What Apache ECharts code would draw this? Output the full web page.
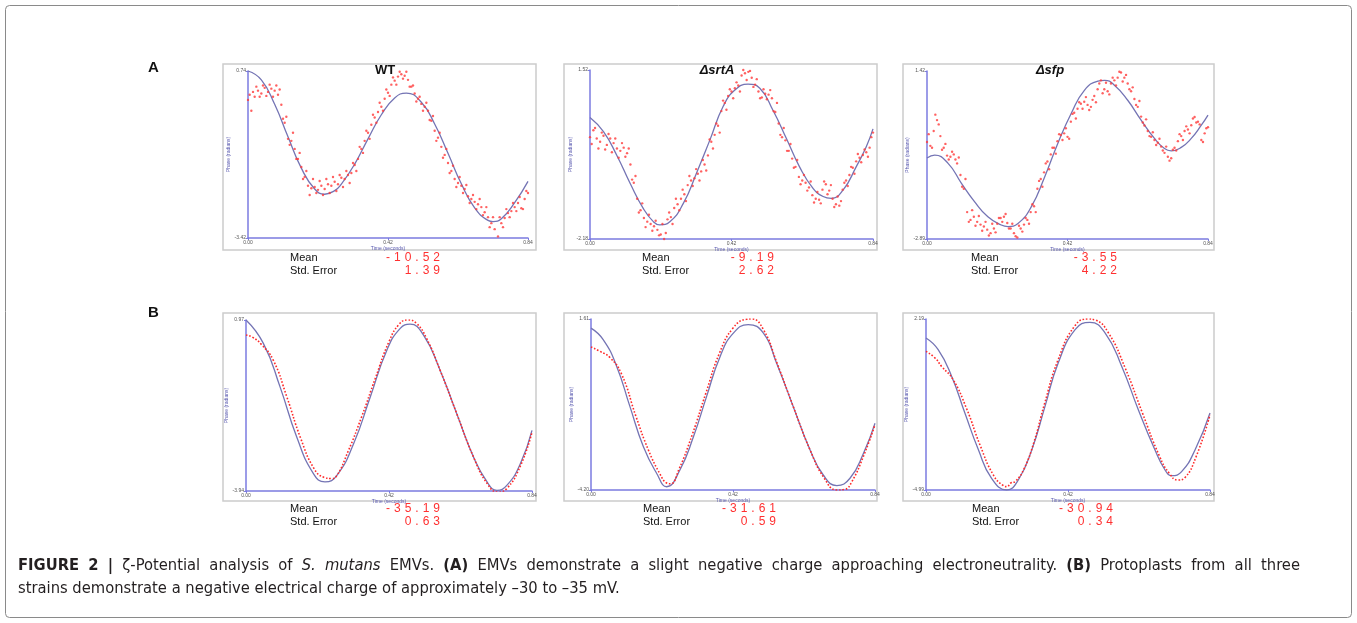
<!DOCTYPE html>
<html><head><meta charset="utf-8">
<script src="https://cdn.jsdelivr.net/npm/echarts@6/dist/echarts.min.js"></script>
<style>html,body{margin:0;padding:0;background:#fff}#c{width:1357px;height:623px}</style>
</head><body><div id="c"></div><script>
// ---------- data ----------
const strains = ['WT', 'ΔsrtA', 'Δsfp'];
const xTicks = [0, 0.42, 0.84];
const yMinA = [-3.42, -2.18, -2.89];
const yMaxA = [0.74, 1.52, 1.42];
const yMinB = [-3.94, -4.20, -4.99];
const yMaxB = [0.97, 1.61, 2.19];
const meanA = ['-10.52', '-9.19', '-3.55'];
const stdErrA = ['1.39', '2.62', '4.22'];
const meanB = ['-35.19', '-31.61', '-30.94'];
const stdErrB = ['0.63', '0.59', '0.34'];

const fitA_WT = [[0,0.74],[0.04,0.52],[0.08,-0.09],[0.12,-0.90],[0.16,-1.68],[0.20,-2.20],[0.23,-2.33],[0.26,-2.24],[0.28,-2.08],[0.32,-1.58],[0.36,-0.95],[0.40,-0.35],[0.44,0.07],[0.475,0.19],[0.52,-0.04],[0.56,-0.58],[0.60,-1.31],[0.64,-2.07],[0.68,-2.67],[0.72,-2.98],[0.735,-3.01],[0.76,-2.94],[0.80,-2.54],[0.84,-2.01]];
const dotsA_WT = [[0.00,0.02],[0.01,-0.25],[0.02,0.10],[0.03,0.25],[0.04,0.18],[0.05,0.32],[0.06,0.22],[0.07,0.30],[0.08,0.25],[0.09,0.15],[0.10,-0.10],[0.11,-0.55],[0.12,-0.95],[0.13,-1.00],[0.14,-1.20],[0.15,-1.45],[0.16,-1.65],[0.17,-1.90],[0.18,-2.12],[0.19,-2.18],[0.20,-2.15],[0.21,-2.22],[0.22,-2.12],[0.23,-2.20],[0.24,-2.08],[0.25,-2.12],[0.26,-2.02],[0.27,-2.08],[0.28,-1.92],[0.29,-1.95],[0.30,-1.85],[0.31,-1.80],[0.32,-1.60],[0.33,-1.45],[0.34,-1.20],[0.35,-1.00],[0.36,-0.80],[0.37,-0.60],[0.38,-0.42],[0.39,-0.28],[0.40,-0.15],[0.41,0.05],[0.42,0.20],[0.43,0.40],[0.44,0.50],[0.45,0.60],[0.46,0.66],[0.47,0.62],[0.48,0.52],[0.49,0.35],[0.50,0.18],[0.51,0.05],[0.52,-0.08],[0.53,-0.15],[0.54,-0.25],[0.55,-0.50],[0.56,-0.75],[0.57,-0.92],[0.58,-1.15],[0.59,-1.35],[0.60,-1.55],[0.61,-1.75],[0.62,-1.95],[0.63,-2.05],[0.64,-2.12],[0.65,-2.20],[0.66,-2.38],[0.67,-2.45],[0.68,-2.52],[0.69,-2.58],[0.70,-2.65],[0.71,-2.78],[0.72,-2.90],[0.73,-3.05],[0.74,-3.20],[0.75,-3.38],[0.76,-3.05],[0.77,-2.92],[0.78,-2.80],[0.79,-2.75],[0.80,-2.65],[0.81,-2.55],[0.82,-2.68],[0.83,-2.45],[0.84,-2.30],
[0.005,0.15],[0.015,0.22],[0.025,0.35],[0.035,0.10],[0.045,0.38],[0.055,0.12],[0.065,0.40],[0.075,0.10],[0.085,0.38],[0.095,0.28],[0.105,-0.45],[0.115,-0.40],[0.125,-1.10],[0.135,-0.80],[0.145,-1.45],[0.155,-1.30],[0.165,-1.95],[0.175,-1.75],[0.185,-2.35],[0.195,-1.95],[0.205,-2.30],[0.215,-2.00],[0.225,-2.35],[0.235,-1.95],[0.245,-2.30],[0.255,-1.90],[0.265,-2.25],[0.275,-1.85],[0.285,-2.15],[0.295,-1.75],[0.305,-2.05],[0.315,-1.55],[0.325,-1.75],[0.335,-1.15],[0.345,-1.30],[0.355,-0.75],[0.365,-0.95],[0.375,-0.35],[0.385,-0.55],[0.395,-0.05],[0.405,-0.25],[0.415,0.28],[0.425,0.12],[0.435,0.58],[0.445,0.40],[0.455,0.72],[0.465,0.55],[0.475,0.72],[0.485,0.35],[0.495,0.38],[0.505,-0.02],[0.515,0.10],[0.525,-0.25],[0.535,-0.05],[0.545,-0.48],[0.555,-0.38],[0.565,-1.00],[0.575,-0.80],[0.585,-1.42],[0.595,-1.20],[0.605,-1.80],[0.615,-1.62],[0.625,-2.15],[0.635,-1.90],[0.645,-2.30],[0.655,-2.10],[0.665,-2.55],[0.675,-2.35],[0.685,-2.70],[0.695,-2.45],[0.705,-2.85],[0.715,-2.65],[0.725,-3.15],[0.735,-2.90],[0.745,-3.45],[0.755,-2.90],[0.765,-3.15],[0.775,-2.70],[0.785,-2.90],[0.795,-2.55],[0.805,-2.75],[0.815,-2.40],[0.825,-2.70],[0.835,-2.25]];

const fitA_srtA = [[0,0.48],[0.04,0.17],[0.079,-0.34],[0.119,-0.96],[0.158,-1.51],[0.188,-1.80],[0.207,-1.87],[0.237,-1.80],[0.277,-1.40],[0.316,-0.74],[0.356,-0.01],[0.395,0.72],[0.43,1.08],[0.469,1.21],[0.504,1.12],[0.543,0.64],[0.583,0.02],[0.622,-0.60],[0.662,-1.07],[0.692,-1.25],[0.716,-1.29],[0.751,-1.11],[0.79,-0.60],[0.82,-0.16],[0.84,0.23]];
const dotsA_srtA = [[0.00,0.05],[0.01,0.20],[0.02,0.02],[0.03,-0.05],[0.04,0.08],[0.05,-0.12],[0.06,0.02],[0.07,-0.08],[0.08,-0.20],[0.09,-0.25],[0.10,-0.18],[0.11,-0.30],[0.12,-0.55],[0.13,-0.95],[0.14,-1.30],[0.15,-1.55],[0.16,-1.72],[0.17,-1.80],[0.18,-1.85],[0.19,-1.90],[0.20,-1.98],[0.21,-2.08],[0.22,-2.18],[0.23,-1.75],[0.24,-1.70],[0.25,-1.50],[0.26,-1.42],[0.27,-1.30],[0.28,-1.20],[0.29,-1.00],[0.30,-0.90],[0.31,-0.85],[0.32,-0.75],[0.33,-0.70],[0.34,-0.55],[0.35,-0.35],[0.36,-0.05],[0.37,0.10],[0.38,0.30],[0.39,0.62],[0.40,0.80],[0.41,0.95],[0.42,1.05],[0.43,1.12],[0.44,1.18],[0.45,1.40],[0.46,1.45],[0.47,1.48],[0.48,1.35],[0.49,1.20],[0.50,1.05],[0.51,0.92],[0.52,1.00],[0.53,0.98],[0.54,0.90],[0.55,0.60],[0.56,0.35],[0.57,0.05],[0.58,-0.02],[0.59,-0.25],[0.60,-0.42],[0.61,-0.60],[0.62,-0.82],[0.63,-0.90],[0.64,-0.95],[0.65,-1.05],[0.66,-1.22],[0.67,-1.30],[0.68,-1.32],[0.69,-1.10],[0.70,-0.98],[0.71,-1.12],[0.72,-1.30],[0.73,-1.42],[0.74,-1.45],[0.75,-1.10],[0.76,-0.90],[0.77,-0.78],[0.78,-0.62],[0.79,-0.48],[0.80,-0.40],[0.81,-0.34],[0.82,-0.28],[0.83,-0.18],[0.84,0.15],
[0.005,-0.10],[0.015,0.25],[0.025,-0.20],[0.035,0.15],[0.045,-0.22],[0.055,0.12],[0.065,-0.28],[0.075,0.02],[0.085,-0.40],[0.095,-0.08],[0.105,-0.38],[0.115,-0.20],[0.125,-0.88],[0.135,-0.80],[0.145,-1.60],[0.155,-1.40],[0.165,-1.92],[0.175,-1.65],[0.185,-2.00],[0.195,-1.78],[0.205,-2.10],[0.215,-1.85],[0.225,-2.05],[0.235,-1.60],[0.245,-1.85],[0.255,-1.30],[0.265,-1.55],[0.275,-1.10],[0.285,-1.35],[0.295,-0.80],[0.305,-1.02],[0.315,-0.65],[0.325,-0.90],[0.335,-0.45],[0.345,-0.68],[0.355,0.00],[0.365,-0.20],[0.375,0.35],[0.385,0.15],[0.395,0.85],[0.405,0.65],[0.415,1.10],[0.425,0.90],[0.435,1.25],[0.445,1.05],[0.455,1.52],[0.465,1.30],[0.475,1.50],[0.485,1.15],[0.495,1.32],[0.505,0.90],[0.515,1.10],[0.525,0.88],[0.535,1.08],[0.545,0.62],[0.555,0.80],[0.565,0.10],[0.575,0.25],[0.585,-0.25],[0.595,-0.10],[0.605,-0.62],[0.615,-0.45],[0.625,-0.98],[0.635,-0.78],[0.645,-1.12],[0.655,-0.92],[0.665,-1.38],[0.675,-1.15],[0.685,-1.40],[0.695,-0.92],[0.705,-1.20],[0.715,-1.00],[0.725,-1.48],[0.735,-1.25],[0.745,-1.35],[0.755,-0.95],[0.765,-1.02],[0.775,-0.60],[0.785,-0.75],[0.795,-0.32],[0.805,-0.50],[0.815,-0.22],[0.825,-0.38],[0.835,0.05]];

const fitA_sfp = [[0,-0.81],[0.023,-0.74],[0.063,-0.95],[0.103,-1.46],[0.142,-1.93],[0.182,-2.32],[0.222,-2.53],[0.242,-2.57],[0.272,-2.49],[0.312,-2.06],[0.352,-1.29],[0.391,-0.44],[0.431,0.33],[0.471,0.93],[0.511,1.16],[0.531,1.18],[0.561,1.05],[0.60,0.67],[0.64,0.16],[0.68,-0.31],[0.71,-0.57],[0.73,-0.63],[0.76,-0.54],[0.79,-0.31],[0.82,0.03],[0.84,0.29]];
const dotsA_sfp = [[0.00,-0.40],[0.01,-0.50],[0.02,-0.12],[0.03,0.16],[0.04,-0.25],[0.05,-0.55],[0.06,-0.75],[0.07,-0.78],[0.08,-0.72],[0.09,-0.95],[0.10,-1.25],[0.11,-1.60],[0.12,-2.20],[0.13,-2.40],[0.14,-2.32],[0.15,-2.45],[0.16,-2.52],[0.17,-2.57],[0.18,-2.65],[0.19,-2.74],[0.20,-2.62],[0.21,-2.50],[0.22,-2.35],[0.23,-2.32],[0.24,-2.48],[0.25,-2.62],[0.26,-2.74],[0.27,-2.85],[0.28,-2.62],[0.29,-2.52],[0.30,-2.40],[0.31,-2.20],[0.32,-2.05],[0.33,-1.60],[0.34,-1.35],[0.35,-1.18],[0.36,-0.90],[0.37,-0.72],[0.38,-0.55],[0.39,-0.38],[0.40,-0.22],[0.41,-0.18],[0.42,-0.27],[0.43,0.12],[0.44,0.35],[0.45,0.45],[0.46,0.58],[0.47,0.63],[0.48,0.55],[0.49,0.50],[0.50,0.78],[0.51,0.95],[0.52,1.18],[0.53,0.95],[0.54,0.90],[0.55,1.10],[0.56,1.18],[0.57,1.25],[0.58,1.38],[0.59,1.25],[0.60,1.10],[0.61,0.90],[0.62,0.70],[0.63,0.50],[0.64,0.25],[0.65,0.02],[0.66,-0.12],[0.67,-0.27],[0.68,-0.35],[0.69,-0.42],[0.70,-0.52],[0.71,-0.68],[0.72,-0.78],[0.73,-0.82],[0.74,-0.55],[0.75,-0.38],[0.76,-0.25],[0.77,-0.12],[0.78,-0.08],[0.79,0.03],[0.80,0.24],[0.81,0.12],[0.82,-0.35],[0.83,-0.18],[0.84,-0.02],
[0.005,-0.20],[0.015,-0.55],[0.025,0.30],[0.035,0.05],[0.045,-0.60],[0.055,-0.45],[0.065,-0.85],[0.075,-0.65],[0.085,-0.85],[0.095,-0.80],[0.105,-1.55],[0.115,-1.35],[0.125,-2.45],[0.135,-2.15],[0.145,-2.55],[0.155,-2.30],[0.165,-2.68],[0.175,-2.45],[0.185,-2.80],[0.195,-2.50],[0.205,-2.72],[0.215,-2.35],[0.225,-2.45],[0.235,-2.25],[0.245,-2.62],[0.255,-2.50],[0.265,-2.82],[0.275,-2.55],[0.285,-2.70],[0.295,-2.35],[0.305,-2.50],[0.315,-2.00],[0.325,-2.20],[0.335,-1.40],[0.345,-1.55],[0.355,-0.95],[0.365,-1.10],[0.375,-0.55],[0.385,-0.70],[0.395,-0.20],[0.405,-0.35],[0.415,-0.05],[0.425,-0.32],[0.435,0.32],[0.445,0.20],[0.455,0.62],[0.465,0.45],[0.475,0.75],[0.485,0.42],[0.495,0.68],[0.505,0.62],[0.515,1.10],[0.525,0.85],[0.535,1.12],[0.545,0.82],[0.555,1.25],[0.565,1.05],[0.575,1.40],[0.585,1.15],[0.595,1.32],[0.605,0.95],[0.615,1.00],[0.625,0.55],[0.635,0.65],[0.645,0.10],[0.655,0.18],[0.665,-0.25],[0.675,-0.15],[0.685,-0.48],[0.695,-0.32],[0.705,-0.62],[0.715,-0.52],[0.725,-0.88],[0.735,-0.60],[0.745,-0.62],[0.755,-0.20],[0.765,-0.35],[0.775,0.00],[0.785,-0.18],[0.795,0.20],[0.805,0.10],[0.815,0.05],[0.825,-0.40],[0.835,-0.05]];

const fitB_WT = [[0,0.97],[0.051,0.30],[0.10,-0.95],[0.149,-2.39],[0.198,-3.44],[0.232,-3.68],[0.267,-3.49],[0.316,-2.58],[0.365,-1.24],[0.414,0.11],[0.453,0.73],[0.482,0.85],[0.521,0.54],[0.57,-0.47],[0.619,-1.72],[0.668,-2.96],[0.708,-3.68],[0.737,-3.92],[0.766,-3.78],[0.806,-3.15],[0.84,-2.20]];
const dataB_WT = [[0,0.54],[0.02,0.47],[0.045,0.27],[0.08,-0.18],[0.12,-1.24],[0.16,-2.41],[0.20,-3.30],[0.23,-3.55],[0.25,-3.58],[0.265,-3.52],[0.30,-2.80],[0.34,-1.80],[0.38,-0.70],[0.42,0.35],[0.45,0.85],[0.475,0.97],[0.50,0.88],[0.53,0.45],[0.57,-0.47],[0.619,-1.72],[0.668,-2.96],[0.708,-3.72],[0.74,-3.97],[0.765,-3.88],[0.806,-3.22],[0.84,-2.25]];

const fitB_srtA = [[0,1.30],[0.036,0.91],[0.076,0.0],[0.115,-1.36],[0.155,-2.73],[0.194,-3.63],[0.224,-4.09],[0.263,-3.52],[0.303,-2.39],[0.342,-1.02],[0.382,0.34],[0.421,1.13],[0.465,1.42],[0.51,1.13],[0.549,0.11],[0.598,-1.36],[0.648,-2.84],[0.687,-3.69],[0.727,-4.05],[0.766,-3.80],[0.806,-2.95],[0.84,-1.93]];
const dataB_srtA = [[0,0.66],[0.027,0.51],[0.056,0.30],[0.09,-0.25],[0.133,-1.70],[0.17,-2.85],[0.205,-3.68],[0.222,-3.95],[0.235,-3.99],[0.26,-3.50],[0.30,-2.30],[0.34,-0.90],[0.38,0.45],[0.42,1.30],[0.46,1.60],[0.475,1.61],[0.51,1.25],[0.549,0.15],[0.598,-1.36],[0.648,-2.84],[0.69,-3.80],[0.727,-4.20],[0.75,-4.18],[0.77,-3.95],[0.806,-3.05],[0.84,-1.98]];

const fitB_sfp = [[0,1.39],[0.036,0.90],[0.076,-0.22],[0.115,-1.76],[0.155,-3.30],[0.194,-4.50],[0.239,-4.99],[0.273,-4.57],[0.313,-3.30],[0.352,-1.48],[0.391,0.34],[0.441,1.74],[0.485,2.05],[0.53,1.60],[0.579,0.20],[0.628,-1.62],[0.677,-3.30],[0.707,-4.15],[0.727,-4.39],[0.756,-4.22],[0.796,-3.30],[0.84,-1.76]];
const dataB_sfp = [[0,0.83],[0.027,0.55],[0.046,0.20],[0.08,-0.35],[0.12,-1.57],[0.16,-3.11],[0.20,-4.38],[0.228,-4.80],[0.24,-4.85],[0.25,-4.70],[0.265,-4.62],[0.29,-4.10],[0.32,-2.95],[0.35,-1.40],[0.39,0.45],[0.44,1.90],[0.48,2.19],[0.50,2.15],[0.54,1.60],[0.59,0.10],[0.64,-1.75],[0.69,-3.55],[0.72,-4.30],[0.745,-4.57],[0.765,-4.48],[0.80,-3.55],[0.84,-1.83]];

const captionLine1 = [['FIGURE','b'],['2','b'],['|','b'],['ζ-Potential','n'],['analysis','n'],['of','n'],['S.','i'],['mutans','i'],['EMVs.','n'],['(A)','b'],['EMVs','n'],['demonstrate','n'],['a','n'],['slight','n'],['negative','n'],['charge','n'],['approaching','n'],['electroneutrality.','n'],['(B)','b'],['Protoplasts','n'],['from','n'],['all','n'],['three','n']];
const captionLine2 = 'strains demonstrate a negative electrical charge of approximately –30 to –35 mV.';

// ---------- layout & style ----------
const axisBlue = '#7b7be0';
const fitColor = '#7474b4';
const dotRed = '#ff3a3a';
const F = 'Liberation Sans, Arial, sans-serif';

const panels = [
  {grid:{left:248, top:71, width:280, height:167}, frame:[223,64,313,186], min:yMinA[0], max:yMaxA[0], fit:fitA_WT, dots:dotsA_WT, kind:'A'},
  {grid:{left:590, top:70, width:283, height:169}, frame:[564,64,313,186], min:yMinA[1], max:yMaxA[1], fit:fitA_srtA, dots:dotsA_srtA, kind:'A'},
  {grid:{left:927, top:71, width:281, height:168}, frame:[903,64,311,186], min:yMinA[2], max:yMaxA[2], fit:fitA_sfp, dots:dotsA_sfp, kind:'A'},
  {grid:{left:246, top:320, width:286, height:171}, frame:[223,313,313,188], min:yMinB[0], max:yMaxB[0], fit:fitB_WT, dots:dataB_WT, kind:'B'},
  {grid:{left:591, top:319, width:284, height:171}, frame:[564,313,313,188], min:yMinB[1], max:yMaxB[1], fit:fitB_srtA, dots:dataB_srtA, kind:'B'},
  {grid:{left:926, top:319, width:284, height:171}, frame:[903,313,311,188], min:yMinB[2], max:yMaxB[2], fit:fitB_sfp, dots:dataB_sfp, kind:'B'}
];

const grids = [], xAxes = [], yAxes = [], series = [], graphics = [];
panels.forEach((p, i) => {
  grids.push(Object.assign({containLabel:false}, p.grid));
  xAxes.push({
    gridIndex:i, type:'value', min:xTicks[0], max:xTicks[2], interval:xTicks[1],
    axisLine:{show:true, onZero:false, lineStyle:{color:axisBlue, width:1.5}},
    axisTick:{show:true, length:2, lineStyle:{color:axisBlue}},
    axisLabel:{fontSize:5, color:'#555', margin:2, fontFamily:F, formatter:v=>v.toFixed(2)},
    splitLine:{show:false},
    name:'Time (seconds)', nameLocation:'middle', nameGap:8,
    nameTextStyle:{fontSize:5, color:'#5a5ab0', fontFamily:F}
  });
  yAxes.push({
    gridIndex:i, type:'value', min:p.min, max:p.max,
    axisLine:{show:true, onZero:false, lineStyle:{color:axisBlue, width:1.5}},
    axisTick:{show:true, length:2, customValues:[p.min, p.max], lineStyle:{color:axisBlue}},
    axisLabel:{fontSize:5, color:'#555', margin:2, fontFamily:F, customValues:[p.min, p.max], formatter:v=>v.toFixed(2)},
    splitLine:{show:false},
    name:'Phase (radians)', nameLocation:'middle', nameGap:14, nameRotate:90,
    nameTextStyle:{fontSize:5, color:'#5a5ab0', fontFamily:F}
  });
  series.push({
    type:'line', xAxisIndex:i, yAxisIndex:i, data:p.fit, smooth:true, showSymbol:false,
    lineStyle:{color:fitColor, width:1.3}, z:2, silent:true, animation:false
  });
  if (p.kind === 'A') {
    series.push({
      type:'scatter', xAxisIndex:i, yAxisIndex:i, data:p.dots, symbolSize:2.4,
      itemStyle:{color:dotRed}, z:3, silent:true, animation:false
    });
  } else {
    series.push({
      type:'line', xAxisIndex:i, yAxisIndex:i, data:p.dots, smooth:true, showSymbol:false,
      lineStyle:{color:'#ff2a2a', width:1.6, type:[1.6, 1.8]}, z:3, silent:true, animation:false
    });
  }
  graphics.push({type:'rect', shape:{x:p.frame[0], y:p.frame[1], width:p.frame[2], height:p.frame[3]},
    style:{fill:null, stroke:'#cccccc', lineWidth:1.5}, z:-1, silent:true});
});

// outer figure border
graphics.push({type:'rect', shape:{x:5.5, y:5.5, width:1346, height:612, r:4},
  style:{fill:null, stroke:'#8a8a8a', lineWidth:1}, silent:true});

// panel letters
graphics.push({type:'text', x:148, y:60, style:{text:'A', font:'bold 15px '+F, fill:'#111'}});
graphics.push({type:'text', x:148, y:305, style:{text:'B', font:'bold 15px '+F, fill:'#111'}});

// strain titles
const titleX = [385, 717, 1050];
strains.forEach((s, i) => {
  graphics.push({type:'text', x:titleX[i], y:64, style:{text:s, font:(i===0?'bold ':'italic bold ')+'13px '+F, fill:'#111', textAlign:'center'}});
});

// mean / std error blocks
const spaced = s => s.split('').join('\u2004');
const labelXA = [290, 642, 971], valXA = [440, 774, 1117];
const labelXB = [290, 643, 972], valXB = [440, 776, 1113];
function block(lx, vx, y, m, se) {
  graphics.push({type:'text', x:lx, y:y, style:{text:'Mean', font:'11px '+F, fill:'#111'}});
  graphics.push({type:'text', x:lx, y:y+13, style:{text:'Std. Error', font:'11px '+F, fill:'#111'}});
  graphics.push({type:'text', x:vx, y:y, style:{text:spaced(m), font:'12px '+F, fill:'#ff3030', textAlign:'right'}});
  graphics.push({type:'text', x:vx, y:y+13, style:{text:spaced(se), font:'12px '+F, fill:'#ff3030', textAlign:'right'}});
}
for (let i = 0; i < 3; i++) {
  block(labelXA[i], valXA[i], 252, meanA[i], stdErrA[i]);
  block(labelXB[i], valXB[i], 503, meanB[i], stdErrB[i]);
}

// caption (line 1 justified between x=18 and x=1300)
const CF = '"DejaVu Sans Condensed", "Liberation Sans", sans-serif';
const CS = 16.4;
const capFont = {b:'bold '+CS+'px '+CF, n:CS+'px '+CF, i:'italic '+CS+'px '+CF};
const mctx = document.createElement('canvas').getContext('2d');
const widths = captionLine1.map(([w, st]) => { mctx.font = capFont[st]; return mctx.measureText(w).width; });
const total = widths.reduce((a, b) => a + b, 0);
const capLeft = 18, capRight = 1300;
const gap = (capRight - capLeft - total) / (captionLine1.length - 1);
let cx = capLeft;
captionLine1.forEach(([w, st], k) => {
  graphics.push({type:'text', x:cx, y:558, style:{text:w, font:capFont[st], fill:'#231f20'}});
  cx += widths[k] + gap;
});
graphics.push({type:'text', x:capLeft, y:581, style:{text:captionLine2, font:capFont.n, fill:'#231f20'}});

const chart = echarts.init(document.getElementById('c'), null, {renderer:'canvas'});
chart.setOption({
  animation:false,
  backgroundColor:'#ffffff',
  grid:grids, xAxis:xAxes, yAxis:yAxes, series:series, graphic:graphics
});
</script></body></html>
